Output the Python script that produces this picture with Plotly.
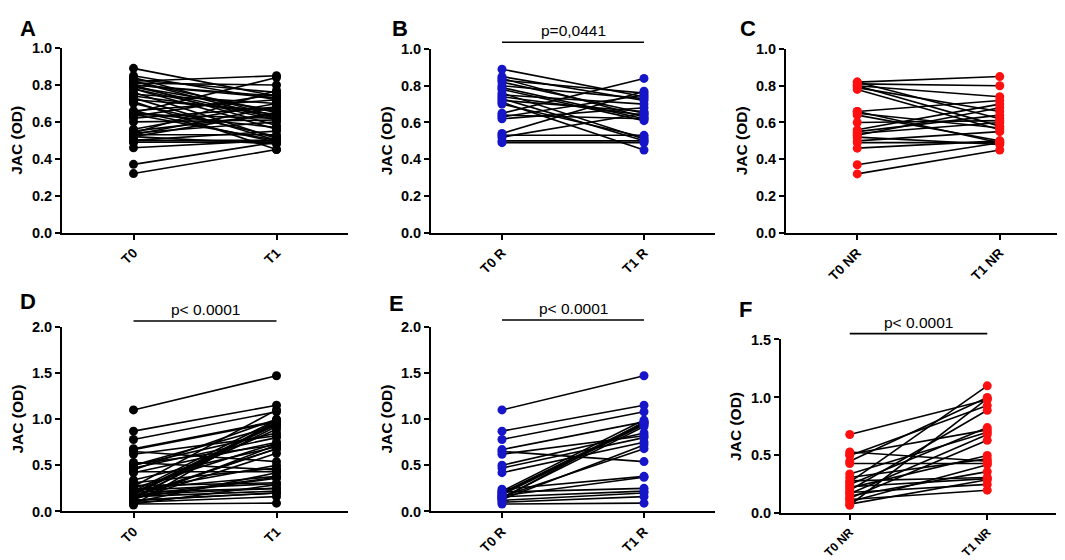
import plotly.graph_objects as go

# responders (R): before / after, paired by position
R_T0_top = [0.89, 0.85, 0.84, 0.83, 0.82, 0.80, 0.79, 0.78, 0.76, 0.75, 0.74, 0.73,
            0.72, 0.71, 0.70, 0.65, 0.64, 0.63, 0.62, 0.54, 0.53, 0.52, 0.50, 0.49]
R_T1_top = [0.74, 0.72, 0.63, 0.76, 0.65, 0.73, 0.62, 0.61, 0.51, 0.70, 0.64, 0.50,
            0.66, 0.45, 0.52, 0.84, 0.62, 0.75, 0.68, 0.77, 0.53, 0.65, 0.50, 0.49]

# non responders (NR)
NR_T0_top = [0.82, 0.82, 0.81, 0.80, 0.80, 0.79, 0.78, 0.66, 0.66, 0.65, 0.64,
             0.60, 0.56, 0.55, 0.54, 0.53, 0.52, 0.50, 0.49, 0.46, 0.37, 0.32]
NR_T1_top = [0.85, 0.62, 0.80, 0.74, 0.58, 0.66, 0.56, 0.49, 0.72, 0.57, 0.50,
             0.61, 0.70, 0.64, 0.60, 0.68, 0.48, 0.55, 0.49, 0.50, 0.49, 0.45]

# second marker (bottom row)
R_T0_bot = [1.10, 0.87, 0.78, 0.67, 0.65, 0.62, 0.50, 0.47, 0.42, 0.24, 0.22, 0.21,
            0.20, 0.19, 0.18, 0.17, 0.16, 0.15, 0.14, 0.13, 0.12, 0.10, 0.08, 0.16]
R_T1_bot = [1.47, 1.15, 1.08, 0.97, 0.54, 0.82, 0.85, 0.80, 0.75, 0.38, 0.99, 0.25,
            0.96, 0.95, 0.94, 0.37, 0.22, 0.92, 0.97, 0.72, 0.20, 0.16, 0.09, 0.68]

NR_T0_bot = [0.68, 0.53, 0.51, 0.50, 0.45, 0.43, 0.34, 0.31, 0.28, 0.27, 0.25,
             0.23, 0.22, 0.20, 0.18, 0.17, 0.15, 0.13, 0.12, 0.10, 0.08, 0.07]
NR_T1_bot = [0.98, 0.45, 0.72, 0.93, 1.00, 0.43, 0.70, 0.47, 0.31, 1.10, 0.74,
             0.30, 0.50, 0.89, 0.25, 0.68, 0.36, 0.63, 0.20, 0.42, 0.29, 0.99]

panels = [
    # letter, categories, T0 values, T1 values, dot colour, y max, y step, p text
    ("A", ["T0", "T1"], R_T0_top + NR_T0_top, R_T1_top + NR_T1_top, "black", 1.0, 0.2, None),
    ("B", ["T0 R", "T1 R"], R_T0_top, R_T1_top, "#1616c8", 1.0, 0.2, "p=0,0441"),
    ("C", ["T0 NR", "T1 NR"], NR_T0_top, NR_T1_top, "#ff1010", 1.0, 0.2, None),
    ("D", ["T0", "T1"], R_T0_bot + NR_T0_bot, R_T1_bot + NR_T1_bot, "black", 2.0, 0.5, "p< 0.0001"),
    ("E", ["T0 R", "T1 R"], R_T0_bot, R_T1_bot, "#1616c8", 2.0, 0.5, "p< 0.0001"),
    ("F", ["T0 NR", "T1 NR"], NR_T0_bot, NR_T1_bot, "#ff1010", 1.5, 0.5, "p< 0.0001"),
]

W, H = 1065, 560
# pixel boxes of each plot area: left, right, top, bottom
boxes = [
    (54, 340, 33, 223), (423, 707, 34, 223), (778, 1063, 34, 223),
    (54, 340, 320, 510), (423, 707, 320, 510), (773, 1048, 333, 512),
]
letter_pos = [(10, 13), (382, 13), (730, 13), (10, 294), (379, 296), (729, 302)]
bar_y = [None, 27, None, 314, 313, 327]
xtick_size = [13.5, 13.5, 13.5, 13.5, 13.5, 12]

fig = go.Figure()
font = "Liberation Sans, Arial, sans-serif"

for i, (letter, cats, t0, t1, col, ymax, step, ptxt) in enumerate(panels):
    n = i + 1
    xa = "x" if n == 1 else "x%d" % n
    ya = "y" if n == 1 else "y%d" % n
    lx, ly = [], []
    for a, b in zip(t0, t1):
        lx += [cats[0], cats[1], None]
        ly += [a, b, None]
    fig.add_trace(go.Scatter(x=lx, y=ly, mode="lines", xaxis=xa, yaxis=ya,
                             line=dict(color="black", width=1.6),
                             showlegend=False, hoverinfo="skip", cliponaxis=False))
    fig.add_trace(go.Scatter(x=[cats[0]] * len(t0) + [cats[1]] * len(t1), y=t0 + t1,
                             mode="markers", xaxis=xa, yaxis=ya,
                             marker=dict(color=col, size=9),
                             showlegend=False, cliponaxis=False))

    l, r, t, b = boxes[i]
    axkey = "xaxis" if n == 1 else "xaxis%d" % n
    aykey = "yaxis" if n == 1 else "yaxis%d" % n
    fig.layout[axkey] = dict(
        domain=[l / W, r / W], anchor=ya, type="category", range=[-0.5, 1.5],
        showline=True, linecolor="black", linewidth=2, ticks="outside",
        tickwidth=2, ticklen=5, tickcolor="black", tickangle=-45,
        showgrid=False, zeroline=False,
        tickfont=dict(family=font, size=xtick_size[i], color="black", weight="bold"))
    fig.layout[aykey] = dict(
        domain=[1 - b / H, 1 - t / H], anchor=xa, range=[0, ymax],
        tickvals=[k * step for k in range(int(round(ymax / step)) + 1)],
        tickformat=".1f", showline=True, linecolor="black", linewidth=2,
        ticks="outside", tickwidth=2, ticklen=5, tickcolor="black",
        showgrid=False, zeroline=False,
        tickfont=dict(family=font, size=14.5, color="black", weight="bold"),
        title=dict(text="JAC (OD)", standoff=5,
                   font=dict(family=font, size=15.5, color="black", weight="bold")))

    px_, py_ = letter_pos[i]
    fig.add_annotation(text=letter, x=px_ / W, y=1 - py_ / H, xref="paper", yref="paper",
                       xanchor="left", yanchor="middle", showarrow=False,
                       font=dict(family=font, size=22, color="black", weight="bold"))
    if ptxt:
        yb = 1 - bar_y[i] / H
        fig.add_shape(type="line", xref=xa, yref="paper", x0=cats[0], x1=cats[1],
                      y0=yb, y1=yb, line=dict(color="black", width=1.6))
        fig.add_annotation(text=ptxt, xref=xa, yref="paper", x=0.5, y=yb,
                           yanchor="bottom", yshift=1, showarrow=False,
                           font=dict(family=font, size=15.5, color="black"))

fig.update_layout(width=W, height=H, margin=dict(l=0, r=0, t=0, b=0),
                  paper_bgcolor="white", plot_bgcolor="white")

fig.write_html("out.html")
